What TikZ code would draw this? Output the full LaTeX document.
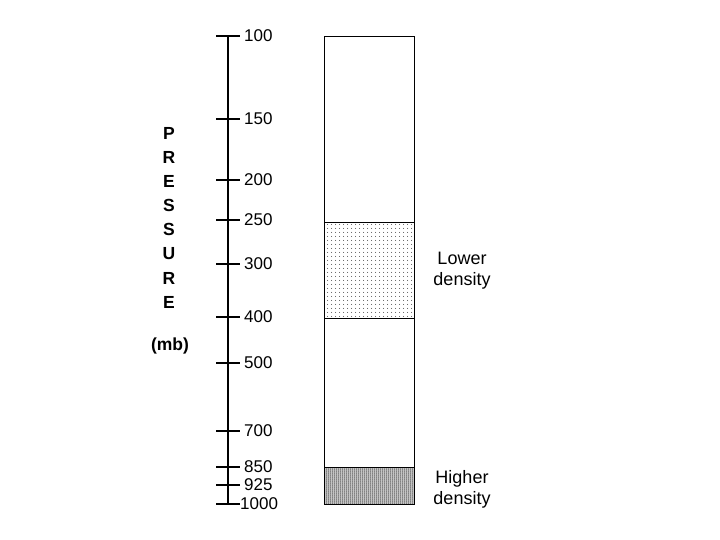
\documentclass[tikz,border=0pt]{standalone}
\usepackage{fontspec}
\setmainfont{Liberation Sans}
\usetikzlibrary{patterns.meta}
\begin{document}
\begin{tikzpicture}[x=1pt,y=-1pt,
  tick/.style={line width=1.6pt},
  ticklabel/.style={anchor=west,inner sep=0pt,font=\fontsize{17}{18}\selectfont},
  letter/.style={inner sep=0pt,font=\fontsize{17.5}{20}\selectfont\bfseries},
  sidelabel/.style={align=center,inner sep=0pt,font=\fontsize{18}{21}\selectfont},
  colbox/.style={draw,line width=0.8pt}]
\useasboundingbox (0,0) rectangle (720,540);
% axis
\coordinate (atop) at (228,36);
\coordinate (abot) at (228,504);
\draw[line width=2.8pt] (atop) -- (abot);
\foreach \v/\y in {100/36,150/119,200/180,250/220,300/264,400/317,500/363,700/431,850/467,925/485}{
  \coordinate (t\v) at (228,\y);
  \draw[tick] ([xshift=-12pt]t\v) -- ([xshift=12pt]t\v);
  \node[ticklabel] (l\v) at ([xshift=16pt]t\v) {\v};
}
\coordinate (t1000) at (228,504);
\draw[tick] ([xshift=-12pt]t1000) -- ([xshift=12pt]t1000);
\node[ticklabel] (l1000) at ([xshift=12pt]t1000) {1000};
% PRESSURE
\foreach \c [count=\i] in {P,R,E,S,S,U,R,E}{
  \node[letter] (p\i) at (169,{133.5+24.1*(\i-1)}) {\c};
}
\node[letter] (mb) at (170,346) {(mb)};
% column
\path[pattern={Dots[distance=4pt,radius=0.5pt]}] (324,222) rectangle (414,318);
\path[pattern={Dots[distance=2pt,radius=0.75pt]}] (324,467) rectangle (414,504);
\draw[colbox] (324,36) rectangle (414,504);
\draw[colbox] (324,222) -- (414,222);
\draw[colbox] (324,318) -- (414,318);
\draw[colbox] (324,467) -- (414,467);
\node[sidelabel] (low) at (462,271) {Lower\\density};
\node[sidelabel] (high) at (462,489) {Higher\\density};
\end{tikzpicture}
\end{document}
